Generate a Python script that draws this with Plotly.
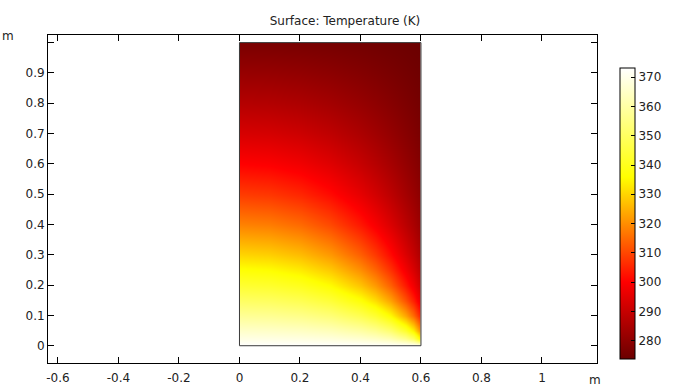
import plotly.graph_objects as go

# Temperature field (K), on nodes of the 0.6 m x 1.0 m rectangle
x_nodes = [0, 0.1, 0.2, 0.3, 0.4, 0.45, 0.5, 0.55, 0.575, 0.6]
y_nodes = [0, 0.025, 0.05, 0.1, 0.15, 0.2, 0.25, 0.3, 0.4, 0.5, 0.6, 0.7, 0.8, 0.9, 1.0]
temperature = [
    [373.15, 373.15, 373.15, 373.15, 373.15, 373.15, 373.15, 373.15, 373.15, 373.15],
    [369.27, 369.13, 368.84, 368.11, 366.44, 364.97, 362.41, 356.46, 349.92, 334.40],
    [365.41, 365.17, 364.55, 363.11, 359.96, 357.20, 352.30, 342.61, 333.66, 319.67],
    [357.78, 357.37, 356.02, 353.24, 347.69, 342.88, 335.41, 323.39, 314.84, 304.44],
    [350.35, 349.78, 347.88, 344.08, 336.90, 331.11, 322.94, 311.53, 304.41, 296.41],
    [343.20, 342.49, 340.20, 335.70, 327.70, 321.67, 313.76, 303.66, 297.77, 291.39],
    [336.41, 335.61, 333.05, 328.19, 319.96, 314.12, 306.85, 298.07, 293.15, 287.94],
    [330.00, 329.15, 326.47, 321.50, 313.46, 308.01, 301.48, 293.89, 289.74, 285.40],
    [318.44, 317.59, 314.96, 310.29, 303.27, 298.80, 293.69, 288.01, 284.99, 281.88],
    [308.55, 307.79, 305.46, 301.47, 295.73, 292.21, 288.30, 284.04, 281.82, 279.53],
    [300.17, 299.54, 297.63, 294.42, 289.93, 287.25, 284.30, 281.15, 279.50, 277.83],
    [293.05, 292.56, 291.10, 288.66, 285.31, 283.33, 281.18, 278.90, 277.71, 276.51],
    [286.93, 286.58, 285.53, 283.82, 281.48, 280.12, 278.64, 277.07, 276.26, 275.44],
    [281.51, 281.29, 280.64, 279.59, 278.17, 277.35, 276.45, 275.51, 275.02, 274.53],
    [276.52, 276.43, 276.17, 275.74, 275.17, 274.84, 274.48, 274.10, 273.90, 273.70],
]
t_min, t_max = 273.70, 373.15

x_ticks = [-0.6, -0.4, -0.2, 0, 0.2, 0.4, 0.6, 0.8, 1.0]
x_ticklabels = ["-0.6", "-0.4", "-0.2", "0", "0.2", "0.4", "0.6", "0.8", "1"]
y_ticks = [0, 0.1, 0.2, 0.3, 0.4, 0.5, 0.6, 0.7, 0.8, 0.9, 1.0]
y_ticklabels = ["0", "0.1", "0.2", "0.3", "0.4", "0.5", "0.6", "0.7", "0.8", "0.9", ""]
cb_ticks = [280, 290, 300, 310, 320, 330, 340, 350, 360, 370]

colorscale = [[0.0, "#6b0000"], [0.265, "#ff0000"], [0.625, "#ffff00"], [1.0, "#ffffff"]]

FONT = "DejaVu Sans"
FS = 12
TXT = "#222"

W, H = 690, 388
ml, mr, mt, mb = 48, 93, 35, 25
pw, ph = W - ml - mr, H - mt - mb

cb_x = (619.5 - ml) / pw
cb_y0 = (H - mb - 359) / ph
cb_len = (359 - 68) / ph

fig = go.Figure()
fig.add_trace(go.Contour(
    x=x_nodes, y=y_nodes, z=temperature,
    colorscale=colorscale, zmin=t_min, zmax=t_max, zauto=False,
    contours=dict(coloring="heatmap", showlines=False),
    line=dict(width=0),
    hoverinfo="skip",
    colorbar=dict(
        x=cb_x, xanchor="left", xpad=0,
        y=cb_y0, yanchor="bottom", ypad=0,
        len=cb_len, lenmode="fraction", thickness=15,
        outlinecolor="black", outlinewidth=1,
        tickvals=cb_ticks, ticks="inside", ticklen=4, tickcolor="black",
        tickfont=dict(family=FONT, size=FS, color=TXT),
    ),
))

# rectangle outline
fig.add_shape(type="rect", xref="x", yref="y", x0=0, x1=0.6, y0=0, y1=1,
              line=dict(color="#3a3a3a", width=1))

# left-side colorbar ticks
for v in cb_ticks:
    yy = cb_y0 + (v - t_min) / (t_max - t_min) * cb_len
    fig.add_shape(type="line", xref="paper", yref="paper",
                  x0=cb_x + 0.5 / pw, x1=cb_x + 4.5 / pw, y0=yy, y1=yy,
                  line=dict(color="black", width=1))

fig.add_annotation(text="m", xref="paper", yref="paper", x=(7.5 - ml) / pw, y=(H - mb - 36.5) / ph,
                   xanchor="center", yanchor="middle", showarrow=False,
                   font=dict(family=FONT, size=FS, color=TXT))
fig.add_annotation(text="m", xref="paper", yref="paper", x=(594.5 - ml) / pw, y=(H - mb - 380) / ph,
                   xanchor="center", yanchor="middle", showarrow=False,
                   font=dict(family=FONT, size=FS, color=TXT))

axis_common = dict(showline=True, linecolor="black", linewidth=1, mirror="ticks",
                   ticks="inside", ticklen=6, tickcolor="black", showgrid=False, zeroline=False,
                   tickfont=dict(family=FONT, size=FS, color=TXT))
fig.update_xaxes(range=[-0.633, 1.182], tickmode="array", tickvals=x_ticks, ticktext=x_ticklabels,
                 ticklabelstandoff=4, **axis_common)
fig.update_yaxes(range=[-0.057, 1.025], tickmode="array", tickvals=y_ticks, ticktext=y_ticklabels,
                 **axis_common)

fig.update_layout(
    width=W, height=H,
    margin=dict(l=ml, r=mr, t=mt, b=mb, autoexpand=False),
    paper_bgcolor="white", plot_bgcolor="white",
    title=dict(text="Surface: Temperature (K)", x=0.5, xref="container", xanchor="center",
               y=1 - 21 / H, yref="container", yanchor="middle",
               font=dict(family=FONT, size=FS, color=TXT)),
    font=dict(family=FONT, size=FS, color=TXT),
    showlegend=False,
)

fig.write_html("out.html", config={"displayModeBar": False},
               post_script="document.body.style.margin='0';document.body.style.padding='0';")
